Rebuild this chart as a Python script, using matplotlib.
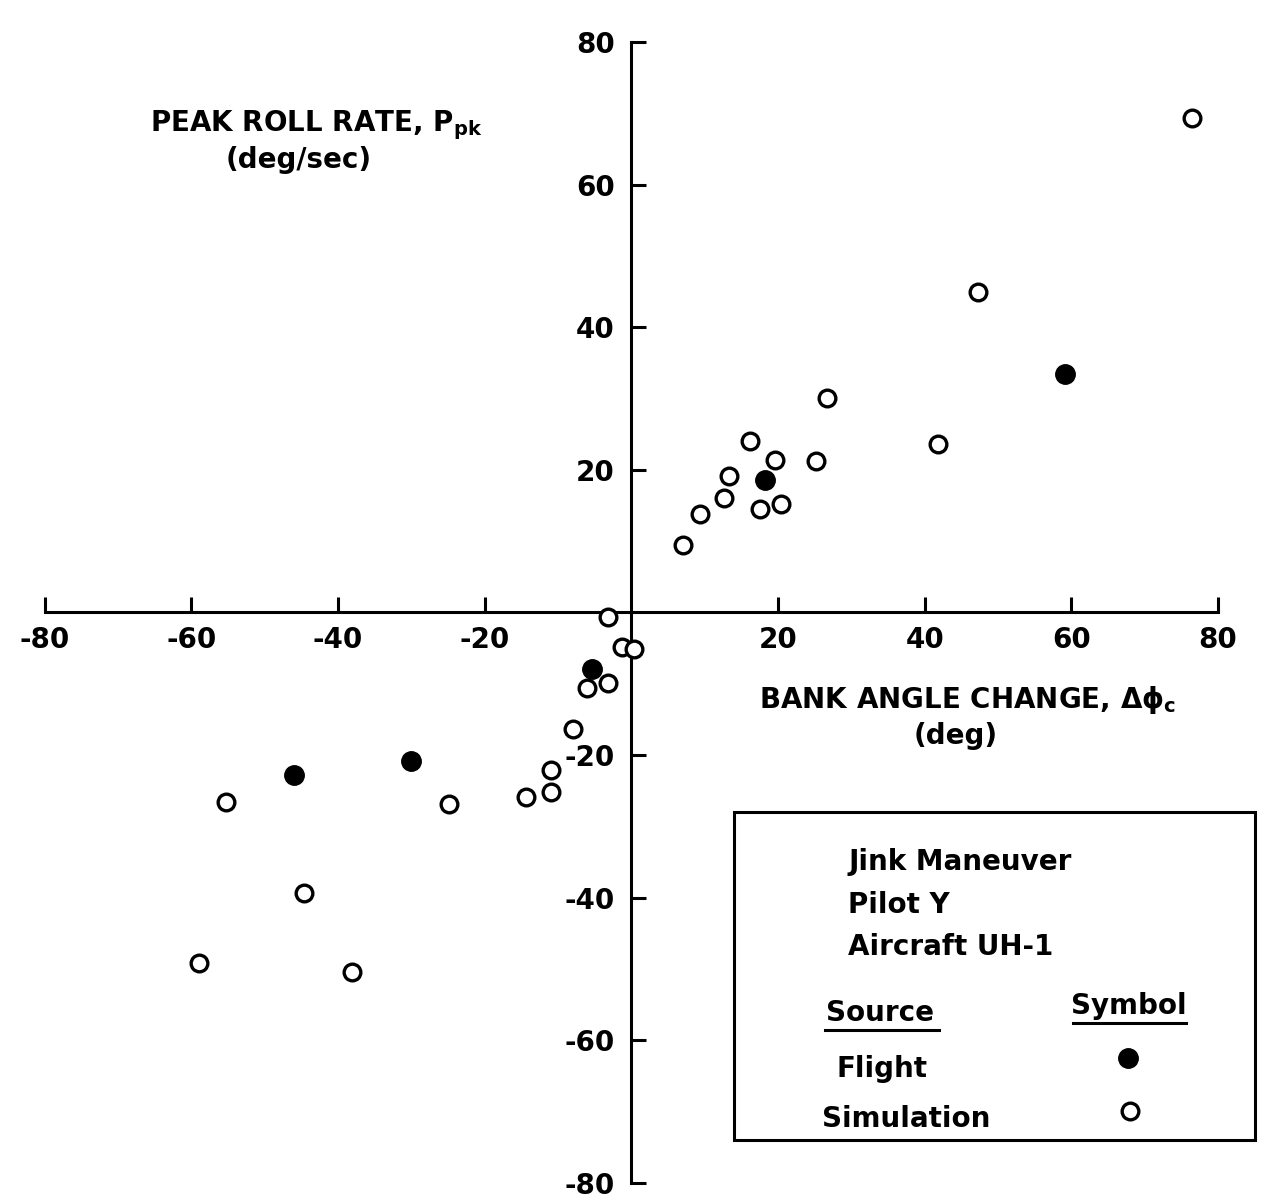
"""
Peak roll rate vs bank angle change -- jink maneuver, pilot Y, UH-1
"""
import numpy as np
import matplotlib
matplotlib.use('Agg')
import matplotlib.pyplot as plt
from matplotlib.patches import Rectangle

plt.rcParams['font.family'] = ['DejaVu Sans']
plt.rcParams['mathtext.fontset'] = 'dejavusans'

# ===== 数据 =====
# Flight (实心)
flight_x = [59.1, 18.2, -5.3, -30.1, -46.0]
flight_y = [33.4, 18.6, -7.9, -20.9, -22.8]

# Simulation (空心)
sim_x = [76.5, 47.3, 41.8, 26.7, 25.2, 16.2, 19.6, 13.3, 12.6, 9.3, 17.5, 20.4, 7.1,
         -3.2, -1.3, 0.4, -3.2, -6.0, -8.0, -11.0, -10.9, -14.4, -24.9, -55.3,
         -44.7, -59.0, -38.1]
sim_y = [69.4, 45.0, 23.6, 30.1, 21.2, 24.1, 21.4, 19.1, 16.0, 13.8, 14.5, 15.2, 9.5,
         -0.7, -4.8, -5.1, -9.9, -10.6, -16.4, -22.1, -25.2, -25.9, -26.9, -26.6,
         -39.3, -49.2, -50.4]

ticks = [-80, -60, -40, -20, 20, 40, 60, 80]
tick_labels = ['-80', '-60', '-40', '-20', '20', '40', '60', '80']

info_lines = ['Jink Maneuver', 'Pilot Y', 'Aircraft UH-1']
sources = ['Flight', 'Simulation']

# ===== 绘图 =====
fig = plt.figure(figsize=(12.7, 12.02), dpi=100)
ax = fig.add_axes([0, 0, 1, 1])
ax.set_xlim(-86.1, 87.1)
ax.set_ylim(-82.7, 85.9)

for s in ['top', 'right']:
    ax.spines[s].set_visible(False)
for s in ['left', 'bottom']:
    ax.spines[s].set_position('zero')
    ax.spines[s].set_linewidth(2.2)
    ax.spines[s].set_bounds(-80, 80)

ax.set_xticks(ticks)
ax.set_xticklabels(tick_labels)
ax.set_yticks(ticks)
ax.set_yticklabels(tick_labels)
ax.tick_params(axis='both', direction='in', length=11, width=2.2,
               labelsize=20)
ax.tick_params(axis='x', pad=10)
ax.tick_params(axis='y', pad=12)
for lbl in ax.get_xticklabels() + ax.get_yticklabels():
    lbl.set_fontweight('bold')

txt = dict(fontsize=20, fontweight='bold', color='black')

ax.plot(sim_x, sim_y, 'o', ms=12, mfc='white', mec='black', mew=2.4,
        ls='none', zorder=5)
ax.plot(flight_x, flight_y, 'o', ms=14, mfc='black', mec='black',
        ls='none', zorder=6)

# 轴标题
ax.text(-43, 68.4, r'PEAK ROLL RATE, $\mathbf{P_{pk}}$', ha='center', va='center', **txt)
ax.text(-45.4, 63.4, '(deg/sec)', ha='center', va='center', **txt)
ax.text(45.8, -12.3, r'BANK ANGLE CHANGE, $\mathbf{\Delta\phi_c}$', ha='center', va='center', **txt)
ax.text(44.2, -17.3, '(deg)', ha='center', va='center', **txt)

# 图例框
ax.add_patch(Rectangle((14, -74), 71, 46, fill=False, lw=2.2,
                       ec='black', clip_on=False, zorder=4))
for i, s in enumerate(info_lines):
    ax.text(29.6, -35 - 6.0 * i, s, ha='left', va='center', **txt)

ax.text(26.6, -56.2, 'Source', ha='left', va='center', **txt)
ax.plot([26.4, 42.0], [-58.6, -58.6], color='black', lw=2.2)
ax.text(67.8, -55.2, 'Symbol', ha='center', va='center', **txt)
ax.plot([60.2, 75.6], [-57.6, -57.6], color='black', lw=2.2)

ax.text(28.0, -64.0, sources[0], ha='left', va='center', **txt)
ax.plot([67.7], [-62.5], 'o', ms=14, mfc='black', mec='black')
ax.text(26.0, -71.0, sources[1], ha='left', va='center', **txt)
ax.plot([68.0], [-70.0], 'o', ms=12, mfc='white', mec='black', mew=2.4)

fig.savefig('out.png', dpi=100)
plt.close(fig)
